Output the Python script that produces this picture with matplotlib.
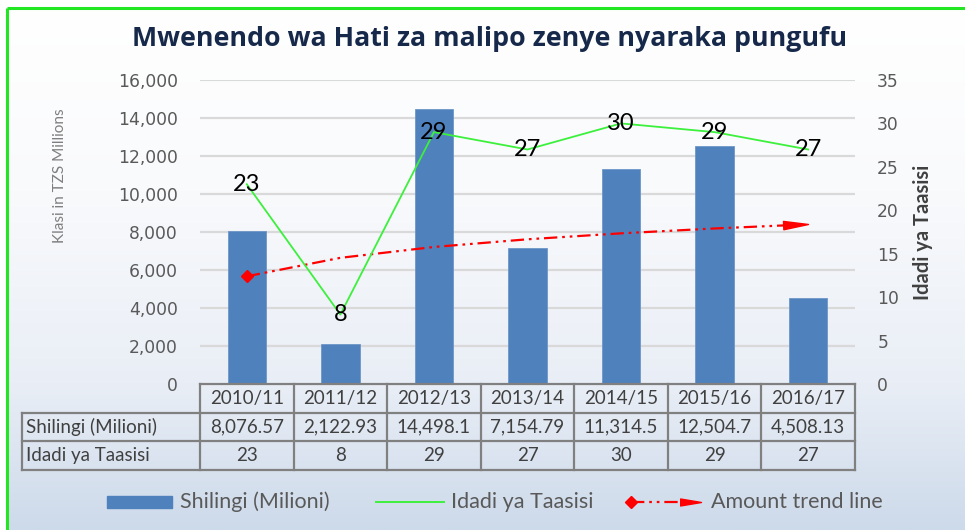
import numpy as np
import matplotlib
matplotlib.use("Agg")
import matplotlib.pyplot as plt
from matplotlib.path import Path
from matplotlib.colors import LinearSegmentedColormap
from matplotlib.patches import Rectangle

# ---------------- data ----------------
categories = ["2010/11", "2011/12", "2012/13", "2013/14", "2014/15", "2015/16", "2016/17"]
amount = [8076.57, 2122.93, 14498.1, 7154.79, 11314.5, 12504.7, 4508.13]
amount_labels = ["8,076.57", "2,122.93", "14,498.1", "7,154.79", "11,314.5", "12,504.7", "4,508.13"]
count = [23, 8, 29, 27, 30, 29, 27]
trend = [5667, 6641, 7212, 7616, 7930, 8186, 8403]   # amount trend line
left_ticks = [0, 2000, 4000, 6000, 8000, 10000, 12000, 14000, 16000]
right_ticks = [0, 5, 10, 15, 20, 25, 30, 35]
row_labels = ["Shilingi (Milioni)", "Idadi ya Taasisi"]

title = "Mwenendo wa Hati za malipo zenye nyaraka pungufu"
ylabel_left = "Klasi in TZS Millions"
ylabel_right = "Idadi ya Taasisi"
legend_labels = ["Shilingi (Milioni)", "Idadi ya Taasisi", "Amount trend line"]

# ---------------- style ----------------
W, H = 965, 530
BAR = "#4f81bd"
GREEN = "#3cf03c"
RED = "#ff0000"
GRID = "#d9d9d9"
TXT = "#595959"
TBL = "#808080"
FONT = "Lato"
TICKFONT = ["DejaVu Sans"]

plt.rcParams["font.family"] = [FONT, "DejaVu Sans"]

fig = plt.figure(figsize=(W / 100, H / 100), dpi=100)

def fx(px):
    return px / W

def fy(py):
    return 1 - py / H

# background gradient + border
bg = fig.add_axes([0, 0, 1, 1], zorder=-10)
bg.set_xlim(0, W)
bg.set_ylim(H, 0)
bg.axis("off")
cmap = LinearSegmentedColormap.from_list(
    "bg", [(0.0, "#ffffff"), (0.35, "#f9fafc"), (0.72, "#e9eef6"), (1.0, "#cddaea")])
grad = np.linspace(0, 1, 256).reshape(-1, 1)
bg.imshow(grad, cmap=cmap, aspect="auto", extent=(7, W, H, 8), zorder=0)
bg.plot([7, 7], [8, H], color="#22e622", lw=2.2, zorder=2, solid_capstyle="butt")
bg.plot([7, W], [8, 8], color="#22e622", lw=2.2, zorder=2, solid_capstyle="butt")

# ---------------- main axes ----------------
L, R, T, B = 200, 855, 80, 384
ax = fig.add_axes([fx(L), fy(B), fx(R - L), (B - T) / H])
ax.set_facecolor("none")
x = np.arange(len(categories))
ax.set_xlim(-0.5, len(categories) - 0.5)
ax.set_ylim(0, 16000)
ax.set_yticks(left_ticks)
ax.set_yticklabels([f"{v:,}" for v in left_ticks], family=TICKFONT)
for s in ax.spines.values():
    s.set_visible(False)
ax.tick_params(axis="y", length=0, pad=16, labelsize=12.3, labelcolor=TXT)
ax.tick_params(axis="x", length=0, labelbottom=False)
for v in left_ticks[1:]:
    ax.axhline(v, color=GRID, lw=1.6, zorder=0)
ax.bar(x, amount, width=0.41, color=BAR, zorder=2, edgecolor="#6e96c8", linewidth=0.6)

# trend line (dash-dot-dot) with diamond start and arrow end
DASH = (0, (6, 2.2, 1.2, 2.2, 1.2, 2.2))
ax.plot(x[:-1].tolist() + [x[-1] - 0.22], trend[:-1] + [trend[-1] - 0.22 * (trend[-1] - trend[-2])],
        color=RED, lw=1.6, ls=DASH, zorder=4)
ax.plot([x[0]], [trend[0]], marker="D", color=RED, ms=6.5, zorder=5, ls="none")
fig.canvas.draw()
p1 = ax.transData.transform((x[-2], trend[-2]))
p2 = ax.transData.transform((x[-1], trend[-1]))
ang = np.arctan2(p2[1] - p1[1], p2[0] - p1[0])
c, s_ = np.cos(ang), np.sin(ang)
base = np.array([[0, 0], [-2.5, 0.42], [-2.5, -0.42], [0, 0]])
rot = base @ np.array([[c, s_], [-s_, c]])
arrow_marker = Path(rot, [Path.MOVETO, Path.LINETO, Path.LINETO, Path.CLOSEPOLY])
ax.plot([x[-1]], [trend[-1]], marker=arrow_marker, ms=36, color=RED, ls="none", zorder=5)

# secondary axis
ax2 = ax.twinx()
ax2.set_ylim(0, 35)
ax2.set_yticks(right_ticks)
ax2.set_yticklabels([str(v) for v in right_ticks], family=TICKFONT)
for s in ax2.spines.values():
    s.set_visible(False)
ax2.tick_params(axis="y", length=0, pad=16, labelsize=12.3, labelcolor=TXT)
ax2.plot(x, count, color=GREEN, lw=1.3, zorder=3)
for xi, v in zip(x, count):
    ax2.text(xi, v, str(v), ha="center", va="center", fontsize=17, color="black", zorder=6)

fig.text(fx(60), fy(176), ylabel_left, rotation=90, ha="center", va="center",
         fontsize=11, color="#7f7f7f")
fig.text(fx(923), fy(232), ylabel_right, rotation=90, ha="center", va="center",
         fontsize=14.5, color="#404040", fontweight="bold")

fig.text(fx(490), fy(39), title, ha="center", va="center", fontsize=19.3,
         fontweight="bold", color="#17294a", family=["Open Sans", "DejaVu Sans"])

# ---------------- data table ----------------
tb = fig.add_axes([fx(L), fy(470), fx(R - L), (470 - 384) / H])
tb.set_xlim(-0.5, len(categories) - 0.5)
tb.set_ylim(3, 0)
tb.axis("off")
cw = (R - L) / len(categories)
xl = -0.5 - (L - 22) / cw
lk = dict(color=TBL, lw=1.6, clip_on=False, solid_capstyle="projecting")
tb.plot([-0.5, len(categories) - 0.5], [0, 0], **lk)
for r in (1, 2, 3):
    tb.plot([xl, len(categories) - 0.5], [r, r], **lk)
for i in range(len(categories) + 1):
    tb.plot([i - 0.5, i - 0.5], [0, 3], **lk)
tb.plot([xl, xl], [1, 3], **lk)
TFS = 13.5
for i, cat in enumerate(categories):
    tb.text(i, 0.5, cat, ha="center", va="center", fontsize=TFS, color="#404040", clip_on=False)
    tb.text(i, 1.5, amount_labels[i], ha="center", va="center", fontsize=TFS, color="#404040", clip_on=False)
    tb.text(i, 2.5, str(count[i]), ha="center", va="center", fontsize=TFS, color="#404040", clip_on=False)
for r, lab in enumerate(row_labels):
    tb.text(xl + 4 / cw, r + 1.5, lab, ha="left", va="center", fontsize=TFS, color="#404040", clip_on=False)

# ---------------- legend ----------------
ly = 502
bg.add_patch(Rectangle((107, ly - 6), 65, 12, color=BAR, zorder=3))
LFS = 15.5
bg.text(180, ly, legend_labels[0], ha="left", va="center", fontsize=LFS, color=TXT, zorder=3)
bg.plot([376, 444], [ly, ly], color=GREEN, lw=1.4, zorder=3)
bg.text(451, ly, legend_labels[1], ha="left", va="center", fontsize=LFS, color=TXT, zorder=3)
bg.plot([631, 685], [ly, ly], color=RED, lw=1.6, ls=DASH, zorder=3)
bg.plot([631], [ly], marker="D", color=RED, ms=6, zorder=4)
leg_arrow = Path(base, [Path.MOVETO, Path.LINETO, Path.LINETO, Path.CLOSEPOLY])
bg.plot([701], [ly], marker=leg_arrow, ms=30, color=RED, zorder=4)
bg.text(711, ly, legend_labels[2], ha="left", va="center", fontsize=LFS, color=TXT, zorder=3)

fig.savefig("out.png", dpi=100)
